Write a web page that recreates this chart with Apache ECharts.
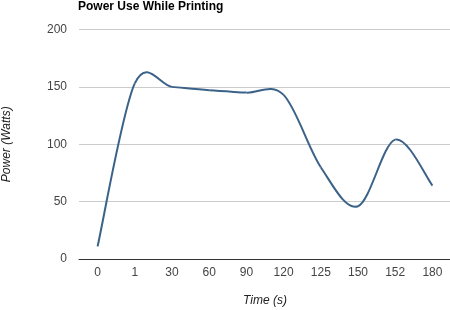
<!DOCTYPE html>
<html><head><meta charset="utf-8">
<script src="https://cdn.jsdelivr.net/npm/echarts@6/dist/echarts.min.js"></script>
<style>html,body{margin:0;padding:0;background:#fff}#c{width:450px;height:310px}</style>
</head><body><div id="c"></div>
<script>
const categories = ['0','1','30','60','90','120','125','150','152','180'];
const powerValues = [11, 153, 150, 147, 145, 143, 80, 46, 104, 64];
const yTicks = [0, 50, 100, 150, 200];

const chart = echarts.init(document.getElementById('c'), null, {renderer:'canvas'});
const font = 'Liberation Sans, Arial, sans-serif';

function renderSegment(params, api) {
  const i = params.dataIndex;
  const n = powerValues.length;
  if (i >= n - 1) return null;
  const pt = k => api.coord([Math.max(0, Math.min(n - 1, k)), powerValues[Math.max(0, Math.min(n - 1, k))]]);
  const p0 = pt(i - 1), p1 = pt(i), p2 = pt(i + 1), p3 = pt(i + 2);
  return {
    type:'bezierCurve',
    shape:{
      x1:p1[0], y1:p1[1], x2:p2[0], y2:p2[1],
      cpx1:p1[0] + (p2[0] - p0[0]) / 6, cpy1:p1[1] + (p2[1] - p0[1]) / 6,
      cpx2:p2[0] - (p3[0] - p1[0]) / 6, cpy2:p2[1] - (p3[1] - p1[1]) / 6
    },
    style:{stroke:'#3b6288', lineWidth:2, fill:null}
  };
}

chart.setOption({
  animation:false,
  backgroundColor:'#fff',
  title:{text:'Power Use While Printing', left:73, top:-4,
    textStyle:{fontFamily:font, fontSize:12, fontWeight:'bold', color:'#000'}},
  grid:{left:79, right:-1, top:29.5, bottom:51, containLabel:false, outerBoundsMode:'none'},
  xAxis:{type:'category', data:categories, boundaryGap:true,
    name:'Time (s)', nameLocation:'middle', nameGap:36,
    nameTextStyle:{fontFamily:font, fontSize:12, fontStyle:'italic', color:'#222'},
    axisLine:{lineStyle:{color:'#333', width:1}},
    axisTick:{show:false},
    axisLabel:{fontFamily:font, fontSize:12, color:'#444', margin:8}},
  yAxis:{type:'value', min:yTicks[0], max:yTicks[yTicks.length-1], interval:50,
    name:'Power (Watts)', nameLocation:'middle', nameGap:66,
    nameTextStyle:{fontFamily:font, fontSize:12, fontStyle:'italic', color:'#222'},
    axisLine:{show:false}, axisTick:{show:false},
    axisLabel:{fontFamily:font, fontSize:12, color:'#444', margin:12},
    splitLine:{lineStyle:{color:'#ccc', width:1}}},
  series:[{type:'custom', coordinateSystem:'cartesian2d', clip:false,
    data:powerValues.map((v, i) => [i, v]),
    encode:{x:0, y:1},
    renderItem:renderSegment}]
});
</script></body></html>
